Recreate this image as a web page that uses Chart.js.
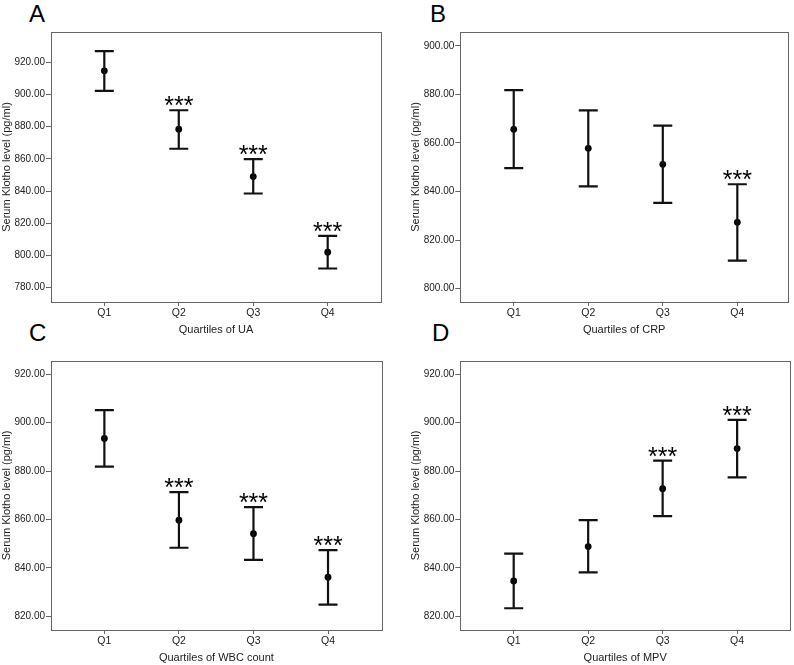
<!DOCTYPE html>
<html>
<head>
<meta charset="utf-8">
<script src="https://cdn.jsdelivr.net/npm/chart.js@4.4.1/dist/chart.umd.min.js"></script>
<style>
body { margin:0; background:#fff; width:794px; height:665px; position:relative; overflow:hidden; font-family:"Liberation Sans", Arial, sans-serif; }
canvas { position:absolute; }
.letter { position:absolute; font-size:24px; line-height:1; color:#000; }
</style>
</head>
<body>
<div class="letter" style="left:29px;top:2px">A</div>
<div class="letter" style="left:430px;top:2px">B</div>
<div class="letter" style="left:29px;top:321px">C</div>
<div class="letter" style="left:432px;top:321px">D</div>
<canvas id="chartA" width="397" height="337" style="left:0;top:0"></canvas>
<canvas id="chartB" width="397" height="337" style="left:397px;top:0"></canvas>
<canvas id="chartC" width="397" height="335" style="left:0;top:330px"></canvas>
<canvas id="chartD" width="397" height="335" style="left:397px;top:330px"></canvas>
<script>
var quartiles = ["Q1", "Q2", "Q3", "Q4"];

// A: uric acid
var meanA = [914.7, 878.4, 849.0, 802.0];
var upperA = [926.9, 890.2, 859.8, 812.2];
var lowerA = [902.2, 866.3, 838.5, 791.9];
var starsA = ["", "***", "***", "***"];
var ticksA = [780, 800, 820, 840, 860, 880, 900, 920];

// B: CRP
var meanB = [865.6, 857.8, 851.2, 827.3];
var upperB = [881.8, 873.4, 867.1, 843.0];
var lowerB = [849.6, 842.1, 835.3, 811.5];
var starsB = ["", "", "", "***"];
var ticksB = [800, 820, 840, 860, 880, 900];

// C: WBC count
var meanC = [893.5, 859.7, 854.1, 836.1];
var upperC = [905.2, 871.3, 865.1, 847.3];
var lowerC = [881.8, 848.3, 843.3, 824.8];
var starsC = ["", "***", "***", "***"];
var ticksC = [820, 840, 860, 880, 900, 920];

// D: MPV
var meanD = [834.6, 848.8, 872.7, 889.3];
var upperD = [845.9, 859.7, 884.3, 901.2];
var lowerD = [823.3, 838.1, 861.4, 877.4];
var starsD = ["", "", "***", "***"];
var ticksD = ticksC;

var errorBars = {
    id: 'errorBars',
    afterDatasetsDraw: function(chart, args, opts) {
        var ctx = chart.ctx;
        var xs = chart.scales.x, ys = chart.scales.y;
        ctx.save();
        ctx.strokeStyle = '#111';
        ctx.lineWidth = 2.2;
        ctx.fillStyle = '#000';
        ctx.font = '25px "Liberation Sans", Arial, sans-serif';
        ctx.textAlign = 'center';
        ctx.textBaseline = 'alphabetic';
        for (var i = 0; i < opts.upper.length; i++) {
            var x = xs.getPixelForValue(i + 1);
            var yu = ys.getPixelForValue(opts.upper[i]);
            var yl = ys.getPixelForValue(opts.lower[i]);
            ctx.beginPath();
            ctx.moveTo(x, yu); ctx.lineTo(x, yl);
            ctx.moveTo(x - 9.5, yu); ctx.lineTo(x + 9.5, yu);
            ctx.moveTo(x - 9.5, yl); ctx.lineTo(x + 9.5, yl);
            ctx.stroke();
            if (opts.stars[i]) {
                ctx.fillText(opts.stars[i], x, yu + 4);
            }
        }
        var a = chart.chartArea;
        ctx.strokeStyle = '#666';
        ctx.lineWidth = 1;
        ctx.strokeRect(Math.round(a.left) + 0.5, Math.round(a.top) + 0.5,
            Math.round(a.right - a.left), Math.round(a.bottom - a.top));
        ctx.restore();
    }
};

function makePanel(id, cfg)
{
    var font = '"Liberation Sans", Arial, sans-serif';
    return new Chart(document.getElementById(id), {
        type: 'scatter',
        data: {
            datasets: [{
                data: cfg.mean.map(function(m, i) { return {x: i + 1, y: m}; }),
                pointRadius: 3.4,
                pointBackgroundColor: '#000',
                pointBorderWidth: 0,
                showLine: false
            }]
        },
        options: {
            responsive: false,
            animation: false,
            layout: { padding: cfg.pad },
            plugins: {
                legend: { display: false },
                tooltip: { enabled: false },
                errorBars: { upper: cfg.upper, lower: cfg.lower, stars: cfg.stars }
            },
            scales: {
                x: {
                    type: 'linear',
                    min: cfg.xmin,
                    max: cfg.xmax,
                    afterBuildTicks: function(scale) {
                        scale.ticks = quartiles.map(function(q, i) { return {value: i + 1}; });
                    },
                    afterFit: function(scale) { scale.height = 35; },
                    grid: { drawOnChartArea: false, tickLength: 4, color: '#666' },
                    border: { display: false },
                    ticks: {
                        padding: 1,
                        color: '#222',
                        font: { family: font, size: 10.5 },
                        callback: function(v) { return quartiles[v - 1]; }
                    },
                    title: {
                        display: true,
                        text: cfg.xtitle,
                        color: '#222',
                        padding: 0,
                        font: { family: font, size: 11 }
                    }
                },
                y: {
                    min: cfg.ymin,
                    max: cfg.ymax,
                    afterBuildTicks: function(scale) {
                        scale.ticks = cfg.yticks.map(function(v) { return {value: v}; });
                    },
                    afterFit: function(scale) { scale.width = cfg.yw; },
                    grid: { drawOnChartArea: false, tickLength: 5, color: '#666' },
                    border: { display: false },
                    ticks: {
                        padding: 1,
                        color: '#222',
                        font: { family: font, size: 10 },
                        callback: function(v) { return v.toFixed(2); }
                    },
                    title: {
                        display: true,
                        text: 'Serum Klotho level (pg/ml)',
                        color: '#222',
                        padding: 0,
                        font: { family: font, size: 11 }
                    }
                }
            }
        },
        plugins: [errorBars]
    });
}

makePanel('chartA', {
    mean: meanA, upper: upperA, lower: lowerA, stars: starsA, yticks: ticksA,
    ymin: 771.1, ymax: 938.8, xmin: 0.284, xmax: 4.716, yw: 51,
    pad: {left: 0, right: 16, top: 32, bottom: 0}, xtitle: 'Quartiles of UA'
});
makePanel('chartB', {
    mean: meanB, upper: upperB, lower: lowerB, stars: starsB, yticks: ticksB,
    ymin: 794.5, ymax: 905.7, xmin: 0.283, xmax: 4.68, yw: 51,
    pad: {left: 12.3, right: 6, top: 32, bottom: 0}, xtitle: 'Quartiles of CRP'
});
makePanel('chartC', {
    mean: meanC, upper: upperC, lower: lowerC, stars: starsC, yticks: ticksC,
    ymin: 814.3, ymax: 925.5, xmin: 0.284, xmax: 4.72, yw: 51,
    pad: {left: 0, right: 15.3, top: 31, bottom: 0}, xtitle: 'Quartiles of WBC count'
});
makePanel('chartD', {
    mean: meanD, upper: upperD, lower: lowerD, stars: starsD, yticks: ticksD,
    ymin: 814.3, ymax: 925.5, xmin: 0.283, xmax: 4.71, yw: 51,
    pad: {left: 12.3, right: 3.3, top: 31, bottom: 0}, xtitle: 'Quartiles of MPV'
});
</script>
</body>
</html>
